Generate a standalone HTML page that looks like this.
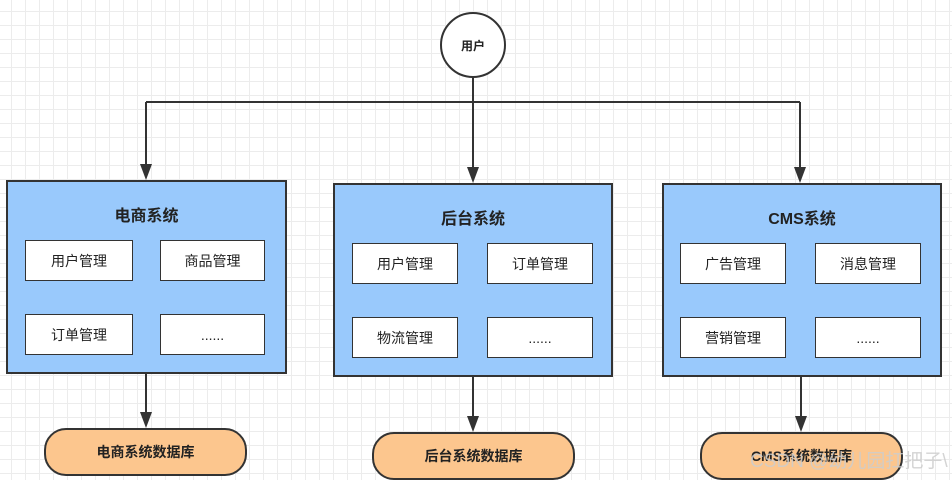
<!DOCTYPE html><html><head><meta charset="utf-8"><style>
body{margin:0;width:952px;height:476px;overflow:hidden;background:#fff;
background-image:linear-gradient(#ececec 1px,transparent 1px),linear-gradient(90deg,#ececec 1px,transparent 1px);background-size:14px 14px;background-position:-3px -3px;
font-family:"Liberation Sans","Noto Sans CJK SC",sans-serif;position:relative}
.a{position:absolute;box-sizing:border-box}
.sys{background:#99c9fc;border:2px solid #333;}
.t{font-weight:bold;font-size:16px;color:#222;text-align:center;width:100%;top:20px}
.in{background:#fff;border:1.5px solid #333;font-size:14px;color:#222;display:flex;align-items:center;justify-content:center;height:41px}
.db{background:#fcc68e;border:2px solid #333;border-radius:22px;font-weight:bold;font-size:14px;color:#222;display:flex;align-items:center;justify-content:center;height:48px;width:203px}
</style></head><body>
<svg class="a" style="left:0;top:0" width="952" height="476">
<g stroke="#333" stroke-width="2" fill="none">
<circle cx="473" cy="45" r="32" fill="#fff"/>
<path d="M473 77 V102 M146 102 H800"/>
<path d="M146 102 V170"/>
<path d="M473 102 V173"/>
<path d="M800 102 V173"/>
<path d="M146 373 V418"/>
<path d="M473 376 V422"/>
<path d="M801 376 V422"/>
</g>
<g fill="#333">
<path d="M140 164 L152 164 L146 180z"/>
<path d="M467 167 L479 167 L473 183z"/>
<path d="M794 167 L806 167 L800 183z"/>
<path d="M140 412 L152 412 L146 428z"/>
<path d="M467 416 L479 416 L473 432z"/>
<path d="M795 416 L807 416 L801 432z"/>
</g>
<text x="473" y="50" font-size="12" font-weight="bold" text-anchor="middle" fill="#222">用户</text>
</svg>
<div class="a sys" style="left:6px;top:180px;width:281px;height:194px"><div class="a t">电商系统</div></div>
<div class="a in" style="left:25px;top:240px;width:108px">用户管理</div>
<div class="a in" style="left:160px;top:240px;width:105px">商品管理</div>
<div class="a in" style="left:25px;top:314px;width:108px">订单管理</div>
<div class="a in" style="left:160px;top:314px;width:105px">......</div>
<div class="a sys" style="left:333px;top:183px;width:280px;height:194px"><div class="a t">后台系统</div></div>
<div class="a in" style="left:352px;top:243px;width:106px">用户管理</div>
<div class="a in" style="left:487px;top:243px;width:106px">订单管理</div>
<div class="a in" style="left:352px;top:317px;width:106px">物流管理</div>
<div class="a in" style="left:487px;top:317px;width:106px">......</div>
<div class="a sys" style="left:662px;top:183px;width:280px;height:194px"><div class="a t">CMS系统</div></div>
<div class="a in" style="left:680px;top:243px;width:106px">广告管理</div>
<div class="a in" style="left:815px;top:243px;width:106px">消息管理</div>
<div class="a in" style="left:680px;top:317px;width:106px">营销管理</div>
<div class="a in" style="left:815px;top:317px;width:106px">......</div>
<div class="a db" style="left:44px;top:428px">电商系统数据库</div>
<div class="a db" style="left:372px;top:432px">后台系统数据库</div>
<div class="a db" style="left:700px;top:432px">CMS系统数据库</div>
<div class="a" style="left:750px;top:446px;font-size:19px;white-space:nowrap;color:rgba(205,205,205,0.85)">CSDN @幼儿园扛把子\</div>
</body></html>
